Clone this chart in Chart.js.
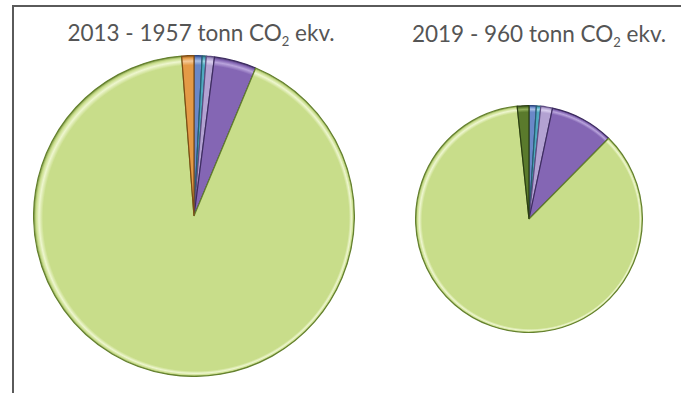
<!DOCTYPE html>
<html><head><meta charset="utf-8">
<script src="https://cdn.jsdelivr.net/npm/chart.js@4/dist/chart.umd.min.js"></script>
<style>
html,body{margin:0;padding:0;background:#fff;width:681px;height:393px;overflow:hidden;position:relative;font-family:Lato,"Open Sans",sans-serif;}
.frame{position:absolute;left:12px;top:5px;width:680px;height:400px;border-left:2px solid #5a5a5a;border-top:2px solid #5a5a5a;}
.title{position:absolute;font-size:22.5px;line-height:26px;color:#555;white-space:nowrap;transform:translateX(-50%);}
.title sub{font-size:13px;vertical-align:-5px;line-height:0;}
#c1wrap{position:absolute;left:33px;top:55px;width:322px;height:322px;}
#c2wrap{position:absolute;left:415px;top:105px;width:228px;height:228px;}
</style></head>
<body>
<div class="frame"></div>
<div class="title" style="left:201px;top:20px;">2013 - 1957 tonn CO<sub>2</sub> ekv.</div>
<div class="title" style="left:539px;top:21px;">2019 - 960 tonn CO<sub>2</sub> ekv.</div>
<div id="c1wrap"><canvas id="c1"></canvas></div>
<div id="c2wrap"><canvas id="c2"></canvas></div>
<script>
const categories = ["Kategori 1","Kategori 2","Kategori 3","Kategori 4","Kategori 5","Kategori 6","Kategori 7"];
const values2013 = [16, 8, 16, 83, 1810, 0, 24];
const values2019 = [10, 6, 16, 87, 825, 16, 0];
const baseColors = ["#6a88c8","#4fa9bf","#b3a2d2","#8466b4","#c8dd8a","#5a7a2c","#e49a46"];
const rimColors  = ["#2f4880","#265f70","#5f4d82","#3d2c60","#64802e","#2a3d12","#7e4c14"];
const hiColors   = ["#a9bfe6","#9cd6e4","#d9cfee","#b9a4dc","#eef6cf","#8fae5a","#f5c997"];

function bg(ctx){
  const i = ctx.dataIndex;
  const chart = ctx.chart;
  const a = chart.chartArea;
  if(!a || i===undefined) return baseColors[i||0];
  const cx=(a.left+a.right)/2, cy=(a.top+a.bottom)/2;
  const r=Math.min(a.right-a.left,a.bottom-a.top)/2;
  const g=chart.ctx.createRadialGradient(cx+0.25*r,cy+0.25*r,0,cx,cy,r);
  g.addColorStop(0,baseColors[i]);
  g.addColorStop(0.95,baseColors[i]);
  g.addColorStop(0.97,hiColors[i]);
  g.addColorStop(0.985,baseColors[i]);
  g.addColorStop(1,rimColors[i]);
  return g;
}
function makeChart(id, values){
  return new Chart(document.getElementById(id),{
    type:'pie',
    data:{labels:categories,datasets:[{data:values,
      backgroundColor:bg,
      borderColor:rimColors,borderWidth:1.2}]},
    options:{responsive:true,maintainAspectRatio:false,animation:false,
      layout:{padding:0},
      plugins:{legend:{display:false},tooltip:{enabled:false},title:{display:false}}}
  });
}
makeChart('c1', values2013);
makeChart('c2', values2019);
</script>
</body></html>
